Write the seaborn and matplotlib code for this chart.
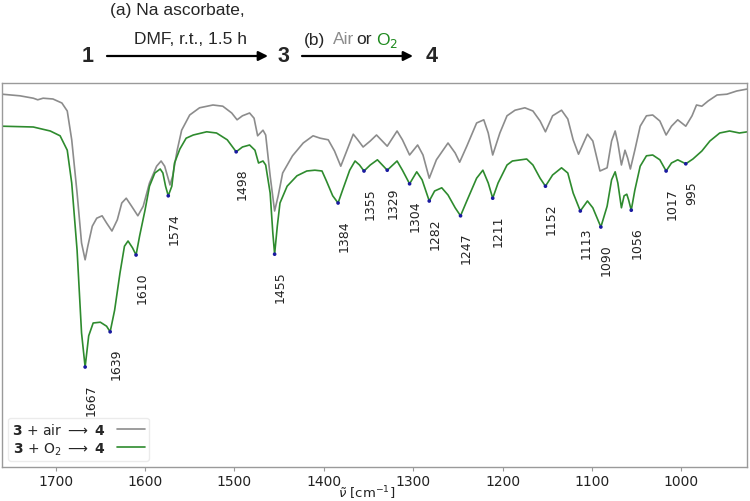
import matplotlib
matplotlib.use('Agg')
import matplotlib.pyplot as plt
import pandas as pd
import seaborn as sns

# IR spectra: wavenumber (cm-1) and transmittance (arb. units)
air_wn = [1760, 1740, 1725, 1720, 1714, 1703, 1693, 1687, 1682, 1676,
          1671, 1667, 1664, 1659, 1654, 1648, 1643, 1637, 1631, 1626,
          1621, 1615, 1608, 1602, 1595, 1587, 1582, 1578, 1572, 1569,
          1564, 1559, 1550, 1539, 1524, 1513, 1503, 1497, 1491, 1483,
          1478, 1474, 1468, 1465, 1460, 1455, 1451, 1446, 1435, 1423,
          1412, 1404, 1395, 1388, 1381, 1374, 1367, 1362, 1356, 1348,
          1341, 1329, 1318, 1312, 1304, 1295, 1289, 1282, 1274, 1261,
          1253, 1248, 1240, 1229, 1221, 1216, 1211, 1203, 1195, 1186,
          1175, 1166, 1158, 1152, 1144, 1134, 1127, 1121, 1115, 1105,
          1099, 1091, 1083, 1078, 1074, 1071, 1067, 1063, 1060, 1057,
          1052, 1046, 1039, 1032, 1024, 1017, 1011, 1004, 995, 988,
          983, 977, 970, 960, 949, 938, 926]
air_t = [93.2, 92.8, 92.2, 91.8, 92.2, 92.0, 91.0, 89.0, 81.8, 68.5,
         56.0, 51.8, 55.2, 60.2, 62.2, 62.8, 61.0, 59.0, 61.8, 66.0,
         67.2, 65.2, 62.8, 65.2, 71.0, 75.2, 76.5, 75.2, 70.5, 72.8,
         79.2, 84.2, 88.0, 89.8, 90.5, 90.2, 88.5, 86.8, 87.8, 88.5,
         87.2, 82.8, 84.2, 83.0, 72.8, 64.0, 67.8, 73.5, 77.8, 81.0,
         82.8, 82.2, 81.8, 79.0, 75.2, 79.2, 83.2, 81.8, 80.0, 81.5,
         83.0, 80.2, 84.0, 81.8, 78.0, 80.5, 78.0, 72.2, 76.8, 81.0,
         78.5, 76.2, 80.2, 86.0, 86.8, 83.5, 78.0, 83.5, 87.8, 89.2,
         89.8, 89.0, 86.5, 83.8, 87.8, 89.2, 87.0, 81.8, 78.2, 83.2,
         81.5, 74.0, 74.8, 81.5, 84.0, 81.0, 75.5, 79.2, 77.2, 74.5,
         79.2, 85.2, 87.8, 88.0, 86.5, 83.0, 85.2, 86.8, 85.2, 87.8,
         90.5, 90.2, 91.5, 93.0, 93.2, 94.0, 94.5]

o2_wn = [1760, 1725, 1706, 1695, 1687, 1682, 1676, 1671, 1667, 1663,
         1658, 1650, 1643, 1639, 1634, 1628, 1623, 1619, 1614, 1610,
         1606, 1600, 1595, 1589, 1583, 1580, 1577, 1574, 1570, 1567,
         1561, 1554, 1546, 1531, 1520, 1508, 1498, 1491, 1483, 1477,
         1473, 1468, 1465, 1460, 1457, 1455, 1452, 1449, 1441, 1430,
         1419, 1410, 1402, 1397, 1390, 1384, 1379, 1371, 1365, 1360,
         1355, 1348, 1340, 1329, 1318, 1312, 1304, 1296, 1290, 1282,
         1276, 1268, 1261, 1253, 1247, 1240, 1229, 1222, 1216, 1211,
         1205, 1195, 1189, 1173, 1166, 1158, 1152, 1144, 1134, 1127,
         1121, 1113, 1105, 1099, 1090, 1083, 1078, 1074, 1071, 1067,
         1064, 1061, 1059, 1056, 1052, 1046, 1039, 1032, 1024, 1017,
         1011, 1004, 995, 987, 977, 968, 957, 946, 935, 926]
o2_t = [85.2, 85.0, 84.0, 82.8, 79.2, 71.0, 54.2, 33.5, 25.0, 32.8,
        36.0, 36.2, 35.2, 33.8, 39.2, 48.5, 55.2, 56.5, 54.8, 53.0,
        57.8, 64.2, 70.2, 73.5, 74.5, 73.5, 70.2, 67.8, 70.2, 76.0,
        79.5, 82.2, 83.0, 83.8, 83.5, 81.8, 78.8, 80.0, 80.5, 79.2,
        76.0, 76.5, 75.5, 68.5, 58.5, 53.2, 60.2, 66.0, 70.2, 72.8,
        74.0, 74.2, 74.0, 71.5, 67.8, 66.0, 69.2, 74.2, 76.5, 75.5,
        74.0, 75.5, 76.8, 74.2, 76.5, 74.2, 70.8, 73.8, 71.8, 66.5,
        69.0, 69.8, 68.0, 64.8, 62.8, 66.5, 72.2, 74.2, 71.0, 67.2,
        71.0, 75.5, 76.5, 77.0, 75.5, 72.2, 70.2, 73.0, 74.8, 73.5,
        68.5, 64.0, 66.5, 64.8, 60.0, 65.2, 71.8, 73.8, 71.0, 64.8,
        67.8, 68.2, 66.8, 64.2, 69.2, 75.2, 77.8, 78.0, 76.8, 74.0,
        76.0, 76.8, 75.8, 77.0, 79.0, 81.5, 83.5, 84.0, 83.5, 83.8]

# labelled bands of the O2 spectrum
peaks = [1667, 1639, 1610, 1574, 1498, 1455, 1384, 1355, 1329, 1304,
         1282, 1247, 1211, 1152, 1113, 1090, 1056, 1017, 995]

label_air = r'$\mathbf{3}$ + air $\longrightarrow$ $\mathbf{4}$'
label_o2 = r'$\mathbf{3}$ + O$_2$ $\longrightarrow$ $\mathbf{4}$'

df = pd.concat([
    pd.DataFrame({'wn': air_wn, 't': air_t, 'sample': label_air}),
    pd.DataFrame({'wn': o2_wn, 't': o2_t, 'sample': label_o2}),
])
o2 = pd.DataFrame({'wn': o2_wn, 't': o2_t})
pk = o2[o2['wn'].isin(peaks)]

sns.set_style('ticks', {'axes.edgecolor': '#9a9a9a', 'xtick.color': '#9a9a9a',
                        'font.family': 'DejaVu Sans'})

fig = plt.figure(figsize=(7.5, 5.02), dpi=100)
ax = fig.add_axes([2 / 750, 1 - 468 / 502, 745 / 750, 384 / 502])

sns.lineplot(data=df, x='wn', y='t', hue='sample', hue_order=[label_air, label_o2],
             palette=['#8c8c8c', '#2e8b2e'], linewidth=1.2, estimator=None,
             solid_joinstyle='round', ax=ax)
sns.scatterplot(data=pk, x='wn', y='t', color='#1a1aa0', s=7, edgecolor='none',
                zorder=5, ax=ax, legend=False)

for _, r in pk.iterrows():
    ax.annotate(str(int(r['wn'])), xy=(r['wn'], r['t']), xytext=(-0.5, -11.5),
                textcoords='offset points', rotation=90, ha='left', va='top',
                fontsize=9, color='#222222')

ax.set_xlim(1760, 926.5)
ax.set_ylim(0, 96)
ax.set_yticks([])
ax.set_xticks([1700, 1600, 1500, 1400, 1300, 1200, 1100, 1000])
ax.tick_params(axis='x', length=3, pad=2, labelsize=10, labelcolor='#222222')
for s in ax.spines.values():
    s.set_linewidth(1.0)
ax.set_xlabel(r'$\tilde{\nu}$ [cm$^{-1}$]', fontsize=9.5, color='#222222')
ax.xaxis.set_label_coords(0.49, -0.043)
ax.set_ylabel('')

leg = ax.legend(loc='lower left', markerfirst=False, fontsize=10, frameon=True,
                borderaxespad=0.45, handlelength=2.0, labelspacing=0.25,
                borderpad=0.3)
leg.get_frame().set_edgecolor('#e6e6e6')

# reaction scheme above the spectrum
tf = {'family': 'Liberation Sans'}
fig.text(110 / 750, 1 - 11 / 502, '(a) Na ascorbate,', fontsize=12.5, va='center', **tf)
fig.text(134 / 750, 1 - 39 / 502, 'DMF, r.t., 1.5 h', fontsize=12.5, va='center', **tf)
for x, s in [(88, '1'), (283, '3'), (432, '4')]:
    fig.text(x / 750, 1 - 57 / 502, s, fontsize=15.5, fontweight='bold',
             ha='center', va='center', **tf)
fig.text(304 / 750, 1 - 40 / 502, '(b)', fontsize=12.5, va='center', **tf)
fig.text(333 / 750, 1 - 40 / 502, 'Air', fontsize=12.5, va='center', color='#8c8c8c', **tf)
fig.text(356 / 750, 1 - 40 / 502, 'or', fontsize=12.5, va='center', **tf)
fig.text(376 / 750, 1 - 40 / 502, 'O$_2$', fontsize=12.5, va='center', color='#1f8a1f', **tf)
for x0, x1 in [(107, 268), (302, 413)]:
    ax.annotate('', xy=(x1 / 750, 1 - 57 / 502), xytext=(x0 / 750, 1 - 57 / 502),
                xycoords='figure fraction',
                arrowprops=dict(arrowstyle='-|>', color='k', lw=1.6,
                                mutation_scale=14, shrinkA=0, shrinkB=0))

fig.savefig('out.png', dpi=100)
